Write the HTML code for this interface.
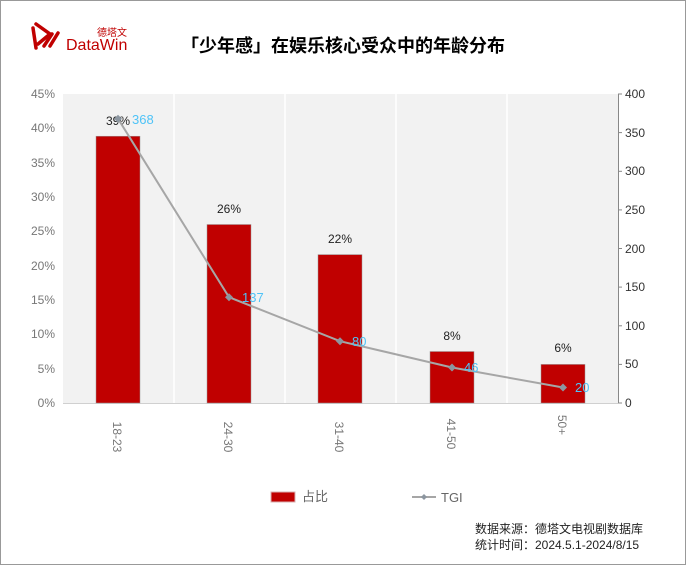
<!DOCTYPE html>
<html><head><meta charset="utf-8"><style>
body{margin:0;width:686px;height:565px;background:#fff;overflow:hidden}
svg{display:block}
text{font-family:"Liberation Sans","Noto Sans CJK SC",sans-serif}
</style></head><body>
<svg width="686" height="565" viewBox="0 0 686 565">
<rect x="0.5" y="0.5" width="685" height="564" fill="#fff" stroke="#999"/>
<!-- logo -->
<g stroke="#c00000" stroke-width="3.5" fill="none" stroke-linecap="round">
<path d="M33 28 L36 48"/><path d="M36 24 L50 34 L38 44"/><path d="M44 46 L52 34"/><path d="M50 46 L58 33"/>
</g>
<text x="97" y="36" font-size="10" fill="#c00000">德塔文</text>
<text x="66" y="50" font-size="16" fill="#c00000">DataWin</text>
<text x="343" y="52" font-size="18" font-weight="bold" text-anchor="middle" fill="#000">「少年感」在娱乐核心受众中的年龄分布</text>
<!-- plot bg -->
<rect x="63" y="94" width="555" height="309" fill="#f2f2f2"/>
<g stroke="#fff" stroke-width="1.5">
<line x1="174" y1="94" x2="174" y2="403"/><line x1="285" y1="94" x2="285" y2="403"/>
<line x1="396" y1="94" x2="396" y2="403"/><line x1="507" y1="94" x2="507" y2="403"/>
</g>
<line x1="63" y1="403.5" x2="618" y2="403.5" stroke="#d0d0d0"/>
<line x1="618.5" y1="94" x2="618.5" y2="403" stroke="#888"/>
<g stroke="#888"><line x1="618" y1="94" x2="622" y2="94"/><line x1="618" y1="132.6" x2="622" y2="132.6"/><line x1="618" y1="171.3" x2="622" y2="171.3"/><line x1="618" y1="209.9" x2="622" y2="209.9"/><line x1="618" y1="248.5" x2="622" y2="248.5"/><line x1="618" y1="287.1" x2="622" y2="287.1"/><line x1="618" y1="325.8" x2="622" y2="325.8"/><line x1="618" y1="364.4" x2="622" y2="364.4"/><line x1="618" y1="403" x2="622" y2="403"/></g>
<g font-size="12" fill="#777" text-anchor="end">
<text x="55" y="98">45%</text><text x="55" y="132">40%</text><text x="55" y="167">35%</text><text x="55" y="201">30%</text><text x="55" y="235">25%</text><text x="55" y="270">20%</text><text x="55" y="304">15%</text><text x="55" y="338">10%</text><text x="55" y="373">5%</text><text x="55" y="407">0%</text>
</g>
<g font-size="12" fill="#333">
<text x="625" y="98">400</text><text x="625" y="137">350</text><text x="625" y="175">300</text><text x="625" y="214">250</text><text x="625" y="253">200</text><text x="625" y="291">150</text><text x="625" y="330">100</text><text x="625" y="368">50</text><text x="625" y="407">0</text>
</g>
<!-- bars -->
<g fill="#c00000" stroke="#999" stroke-width="0.5">
<rect x="96" y="136.2" width="44" height="266.8"/>
<rect x="207" y="224.5" width="44" height="178.5"/>
<rect x="318" y="254.6" width="44" height="148.4"/>
<rect x="430" y="351.5" width="44" height="51.5"/>
<rect x="541" y="364.4" width="44" height="38.6"/>
</g>
<g font-size="12" fill="#222" text-anchor="middle">
<text x="118" y="125">39%</text><text x="229" y="213">26%</text><text x="340" y="243">22%</text><text x="452" y="340">8%</text><text x="563" y="352">6%</text>
</g>
<polyline points="118,118.7 229,297.2 340,341.2 452,367.5 563,387.5" fill="none" stroke="#a6a6a6" stroke-width="2"/>
<g fill="#8c96a0">
<path d="M118 114.7l4 4-4 4-4-4z"/><path d="M229 293.2l4 4-4 4-4-4z"/><path d="M340 337.2l4 4-4 4-4-4z"/><path d="M452 363.5l4 4-4 4-4-4z"/><path d="M563 383.5l4 4-4 4-4-4z"/>
</g>
<g font-size="13" fill="#4fc3f7">
<text x="132" y="124">368</text><text x="242" y="302">137</text><text x="352" y="346">80</text><text x="464" y="372">46</text><text x="575" y="392">20</text>
</g>
<g font-size="12" fill="#777" text-anchor="middle">
<text transform="translate(113,437) rotate(90)" x="0" y="0">18-23</text>
<text transform="translate(224,437) rotate(90)">24-30</text>
<text transform="translate(335,437) rotate(90)">31-40</text>
<text transform="translate(447,434) rotate(90)">41-50</text>
<text transform="translate(558,425) rotate(90)">50+</text>
</g>
<rect x="271" y="492" width="24" height="10" fill="#c00000" stroke="#d8b0b0"/>
<text x="302" y="501" font-size="13" fill="#666">占比</text>
<line x1="412" y1="497" x2="436" y2="497" stroke="#a6a6a6" stroke-width="2"/>
<path d="M424 494l3 3-3 3-3-3z" fill="#8c96a0"/>
<text x="441" y="502" font-size="13" fill="#666">TGI</text>
<text x="475" y="533" font-size="12" fill="#222">数据来源：德塔文电视剧数据库</text>
<text x="475" y="549" font-size="12" fill="#222">统计时间：2024.5.1-2024/8/15</text>
</svg>
</body></html>
